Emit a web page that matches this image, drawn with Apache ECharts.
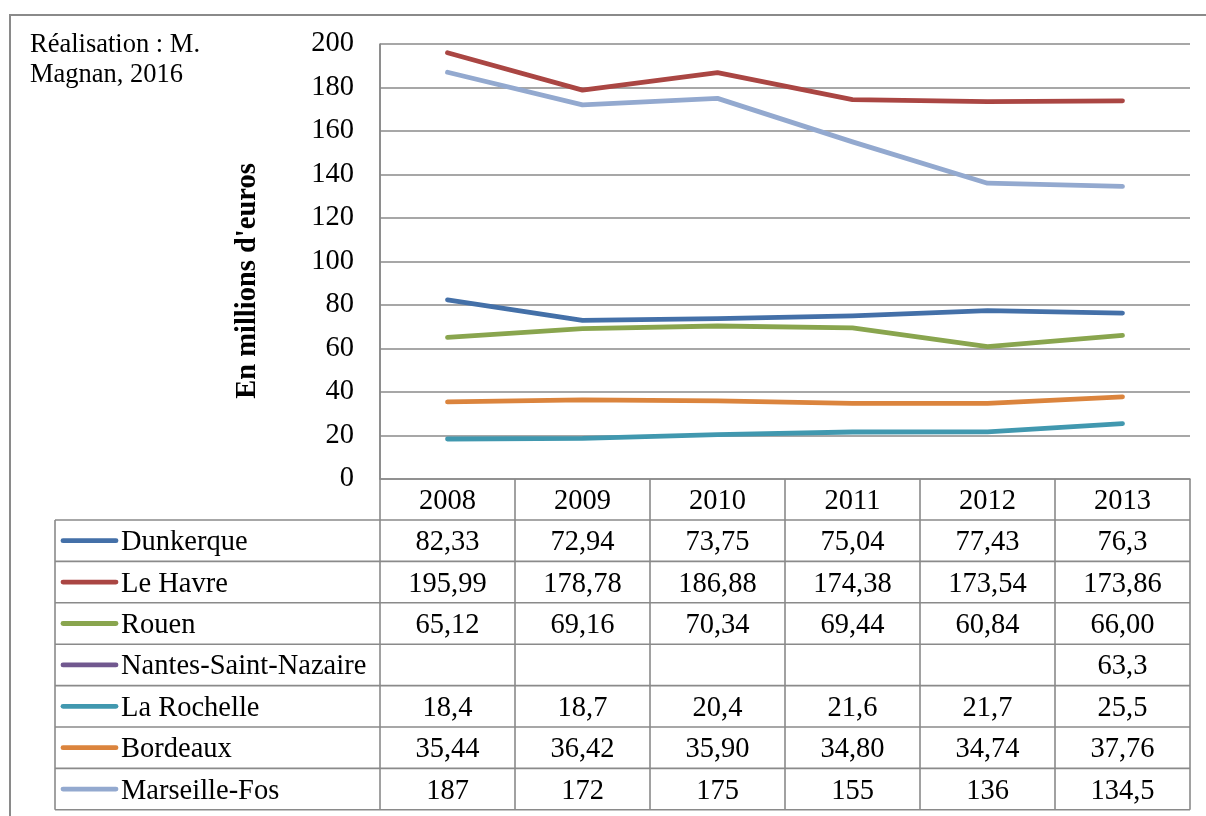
<!DOCTYPE html>
<html>
<head>
<meta charset="utf-8">
<script src="https://cdn.jsdelivr.net/npm/echarts@6/dist/echarts.min.js"></script>
<style>
  html, body { margin: 0; padding: 0; background: #fff; }
  #chart { width: 1206px; height: 816px; }
</style>
</head>
<body>
<div id="chart"></div>
<script>
// Recettes portuaires, grands ports maritimes (millions d'euros)
const years = ['2008', '2009', '2010', '2011', '2012', '2013'];
const ports = ['Dunkerque', 'Le Havre', 'Rouen', 'Nantes-Saint-Nazaire', 'La Rochelle', 'Bordeaux', 'Marseille-Fos'];
const portColors = ['#4470A8', '#AA4643', '#89A54E', '#71588F', '#4198AF', '#DB843D', '#93A9CF'];

const dunkerque  = ['82,33', '72,94', '73,75', '75,04', '77,43', '76,3'];
const leHavre    = ['195,99', '178,78', '186,88', '174,38', '173,54', '173,86'];
const rouen      = ['65,12', '69,16', '70,34', '69,44', '60,84', '66,00'];
const nantes     = ['', '', '', '', '', '63,3'];
const laRochelle = ['18,4', '18,7', '20,4', '21,6', '21,7', '25,5'];
const bordeaux   = ['35,44', '36,42', '35,90', '34,80', '34,74', '37,76'];
const marseille  = ['187', '172', '175', '155', '136', '134,5'];

const yMin = 0, yMax = 200, yStep = 20;
const yTitle = "En millions d'euros";
const credit = 'Réalisation : M.\nMagnan, 2016';

const rows = [dunkerque, leHavre, rouen, nantes, laRochelle, bordeaux, marseille];
const toNum = s => (s === '' ? null : parseFloat(s.replace(',', '.')));

const FONT = '"Liberation Serif", "Times New Roman", serif';
const FS = 28.5;
const GRID = { left: 380, right: 16, top: 44, bottom: 337 };
const gridColor = '#8a8a8a';
const TEXT_DY = 2;

const chart = echarts.init(document.getElementById('chart'), null, { renderer: 'canvas' });

chart.setOption({
  animation: false,
  backgroundColor: '#fff',
  grid: GRID,
  xAxis: {
    type: 'category',
    data: years,
    boundaryGap: true,
    axisLine: { show: true, lineStyle: { color: gridColor, width: 1.6 } },
    axisTick: { show: false },
    axisLabel: {
      margin: 21 + TEXT_DY,
      verticalAlign: 'middle',
      fontFamily: FONT,
      fontSize: FS,
      color: '#000'
    },
    splitLine: { show: false }
  },
  yAxis: {
    type: 'value',
    min: yMin,
    max: yMax,
    interval: yStep,
    axisLine: { show: true, lineStyle: { color: gridColor, width: 1.6 } },
    axisTick: { show: false },
    axisLabel: {
      margin: 26, fontFamily: FONT, fontSize: FS, color: '#000',
      padding: [TEXT_DY * 2, 0, 0, 0]
    },
    splitLine: { show: true, lineStyle: { color: gridColor, width: 1.6 } }
  },
  series: ports.map((name, i) => ({
    name,
    type: 'line',
    data: rows[i].map(toNum),
    showSymbol: false,
    symbol: 'none',
    connectNulls: false,
    lineStyle: { color: portColors[i], width: 4.8, cap: 'round', join: 'round' },
    itemStyle: { color: portColors[i] },
    z: 3
  }))
});

// Data table under the plot, aligned on the category axis
function buildTable() {
  const centers = years.map(y => chart.convertToPixel({ xAxisIndex: 0 }, y));
  const step = centers.length > 1 ? centers[1] - centers[0] : 100;
  const edges = [centers[0] - step / 2].concat(centers.map(c => c + step / 2));
  const axisY = chart.convertToPixel({ yAxisIndex: 0 }, yMin);
  const headerBottom = axisY + 41;
  const rowH = 41.4;
  const tableLeft = 55;
  const tableRight = edges[edges.length - 1];
  const tableBottom = headerBottom + rowH * rows.length;
  const line = (x1, y1, x2, y2) => ({
    type: 'line', silent: true, z: 5,
    shape: { x1, y1, x2, y2 },
    style: { stroke: gridColor, lineWidth: 1.6 }
  });
  const els = [];

  // outer frame
  els.push({
    type: 'rect', silent: true, z: 1,
    shape: { x: 10, y: 15, width: 1230, height: 840 },
    style: { fill: 'none', stroke: '#8a8a8a', lineWidth: 2 }
  });

  // credit text
  els.push({
    type: 'text', silent: true, z: 6,
    style: { text: credit, x: 30, y: 30, font: '26.5px ' + FONT, fill: '#000', lineHeight: 30 }
  });

  // vertical axis title
  els.push({
    type: 'text', silent: true, z: 6,
    x: 248, y: 281, rotation: Math.PI / 2,
    style: {
      text: yTitle, font: 'bold ' + FS + 'px ' + FONT, fill: '#000',
      align: 'center', verticalAlign: 'middle'
    }
  });

  // column separators
  edges.forEach((x, k) => {
    els.push(line(x, k === 0 ? GRID.top : axisY, x, tableBottom));
  });
  // left border of the series column
  els.push(line(tableLeft, headerBottom, tableLeft, tableBottom));
  // row separators
  for (let r = 0; r <= rows.length; r++) {
    const y = headerBottom + r * rowH;
    els.push(line(tableLeft, y, tableRight, y));
  }

  rows.forEach((vals, r) => {
    const cy = headerBottom + (r + 0.5) * rowH;
    els.push({
      type: 'line', silent: true, z: 6,
      shape: { x1: 63, y1: cy, x2: 116, y2: cy },
      style: { stroke: portColors[r], lineWidth: 4.8, lineCap: 'round' }
    });
    els.push({
      type: 'text', silent: true, z: 6,
      style: {
        text: ports[r], x: 121, y: cy + TEXT_DY, font: FS + 'px ' + FONT, fill: '#000',
        align: 'left', verticalAlign: 'middle'
      }
    });
    vals.forEach((v, c) => {
      if (v === '') return;
      els.push({
        type: 'text', silent: true, z: 6,
        style: {
          text: v, x: centers[c], y: cy + TEXT_DY, font: FS + 'px ' + FONT, fill: '#000',
          align: 'center', verticalAlign: 'middle'
        }
      });
    });
  });

  chart.setOption({ graphic: { elements: els } });
}

buildTable();
</script>
</body>
</html>
